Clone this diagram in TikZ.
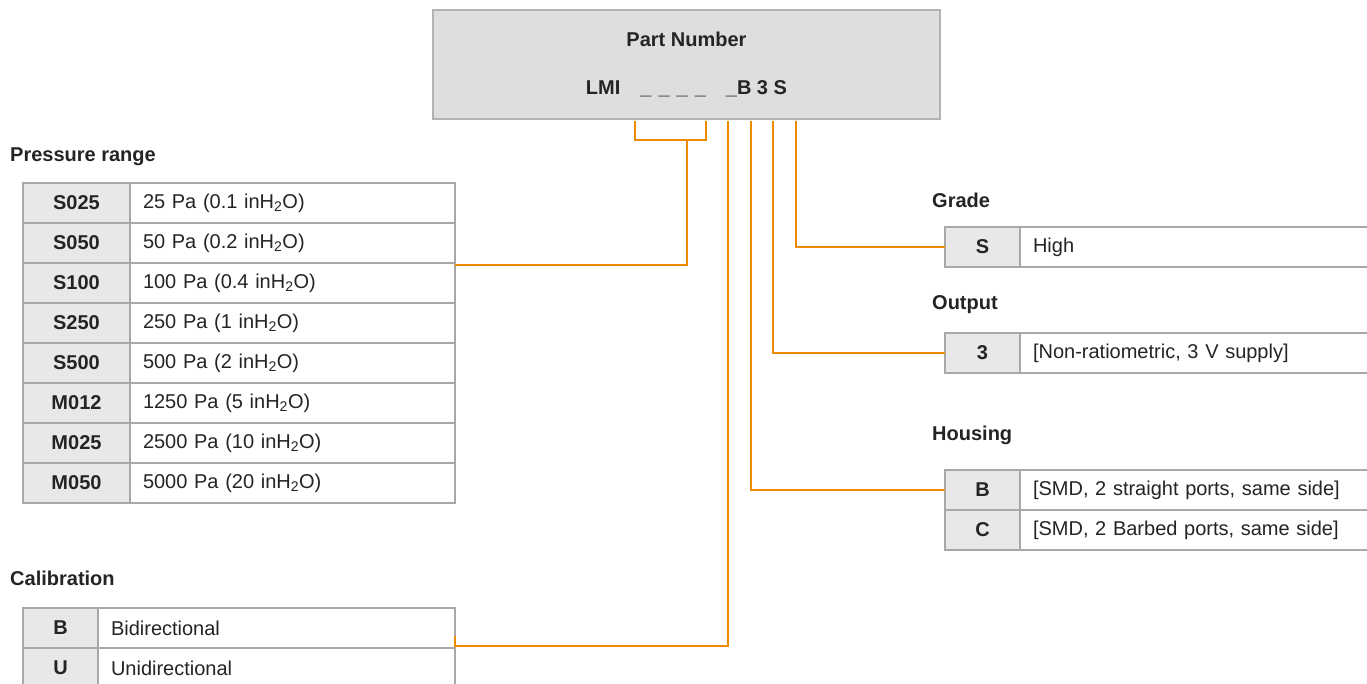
\documentclass[tikz,border=0pt]{standalone}
\usepackage{fontspec}
\setmainfont{Liberation Sans}
\usetikzlibrary{positioning}

\definecolor{wireorange}{RGB}{238,137,0}
\definecolor{cellgray}{RGB}{232,232,233}
\definecolor{rulegray}{RGB}{168,168,168}
\definecolor{boxgray}{RGB}{222,222,222}
\definecolor{boxrule}{RGB}{178,178,178}
\definecolor{inkgray}{RGB}{36,36,36}

\newcommand{\diagfont}{\fontsize{20}{24}\selectfont}

\tikzset{
	head/.style={font=\diagfont\bfseries, text=inkgray, anchor=west, inner sep=0pt},
	keycell/.style={draw=rulegray, line width=1.5pt, fill=cellgray,
		font=\diagfont\bfseries, text=inkgray, minimum width=#1,
		minimum height=40pt, inner sep=0pt, outer sep=0pt, anchor=north west},
	keycell/.default=75pt,
	valcell/.style={draw=rulegray, line width=1.5pt, fill=white, text=inkgray,
		text width=#1, align=left, minimum height=40pt, inner xsep=13pt,
		inner ysep=0pt, outer sep=0pt},
	valcell/.default=334pt,
	wire/.style={draw=wireorange, line width=2pt},
}

\begin{document}
\begin{tikzpicture}[x=1pt,y=-1pt,font=\diagfont]

		\clip (0,0) rectangle (1367,683);
		\fill[white] (0,0) rectangle (1367,683);

		% Part number
		\node[draw=boxrule,
			line width=1.5pt,
			fill=boxgray,
			font=\diagfont\bfseries,
			text=inkgray,
			align=center,
			minimum width=507pt,
			minimum height=109pt] (partno) at (686.5,64.5)
			{Part Number\\[24pt]LMI\hspace{20pt}\_\hspace{7pt}\_\hspace{7pt}\_\hspace{7pt}\_\hspace{20pt}\_B 3 S};

		% Pressure range
		\node[head] (rangehead) at (10,157) {Pressure range};
		\node[keycell=107pt] (pr1k) at (23,183) {S025};
		\node[valcell=299pt, right=0pt of pr1k] (pr1v) {25 Pa (0.1 inH\textsubscript{2}O)};
		\node[keycell=107pt, below=0pt of pr1k] (pr2k) {S050};
		\node[valcell=299pt, right=0pt of pr2k] (pr2v) {50 Pa (0.2 inH\textsubscript{2}O)};
		\node[keycell=107pt, below=0pt of pr2k] (pr3k) {S100};
		\node[valcell=299pt, right=0pt of pr3k] (pr3v) {100 Pa (0.4 inH\textsubscript{2}O)};
		\node[keycell=107pt, below=0pt of pr3k] (pr4k) {S250};
		\node[valcell=299pt, right=0pt of pr4k] (pr4v) {250 Pa (1 inH\textsubscript{2}O)};
		\node[keycell=107pt, below=0pt of pr4k] (pr5k) {S500};
		\node[valcell=299pt, right=0pt of pr5k] (pr5v) {500 Pa (2 inH\textsubscript{2}O)};
		\node[keycell=107pt, below=0pt of pr5k] (pr6k) {M012};
		\node[valcell=299pt, right=0pt of pr6k] (pr6v) {1250 Pa (5 inH\textsubscript{2}O)};
		\node[keycell=107pt, below=0pt of pr6k] (pr7k) {M025};
		\node[valcell=299pt, right=0pt of pr7k] (pr7v) {2500 Pa (10 inH\textsubscript{2}O)};
		\node[keycell=107pt, below=0pt of pr7k] (pr8k) {M050};
		\node[valcell=299pt, right=0pt of pr8k] (pr8v) {5000 Pa (20 inH\textsubscript{2}O)};

		% Calibration
		\node[head] (calhead) at (10,578) {Calibration};
		\node[keycell] (ca1k) at (23,608) {B};
		\node[valcell=331pt, right=0pt of ca1k] (ca1v) {Bidirectional};
		\node[keycell, below=0pt of ca1k] (ca2k) {U};
		\node[valcell=331pt, right=0pt of ca2k] (ca2v) {Unidirectional};

		% Grade
		\node[head] (gradehead) at (932,200) {Grade};
		\node[keycell] (gr1k) at (945,227) {S};
		\node[valcell, right=0pt of gr1k] (gr1v) {High};

		% Output
		\node[head] (outhead) at (932,305) {Output};
		\node[keycell] (ou1k) at (945,333) {3};
		\node[valcell, right=0pt of ou1k] (ou1v) {[Non-ratiometric, 3 V supply]};

		% Housing
		\node[head] (houhead) at (932,435) {Housing};
		\node[keycell] (ho1k) at (945,470) {B};
		\node[valcell, right=0pt of ho1k] (ho1v) {[SMD, 2 straight ports, same side]};
		\node[keycell, below=0pt of ho1k] (ho2k) {C};
		\node[valcell, right=0pt of ho2k] (ho2v) {[SMD, 2 Barbed ports, same side]};

		% Taps under the part number
		\coordinate (brkL) at (635,121);
		\coordinate (brkR) at (706,121);
		\coordinate (brkM) at (687,140);
		\coordinate (tapCal) at (728,121);
		\coordinate (tapHou) at (751,121);
		\coordinate (tapOut) at (773,121);
		\coordinate (tapGra) at (796,121);

		\draw[wire] (brkL) |- (brkM) -| (brkR);
		\draw[wire] (brkM) |- ([yshift=-2pt]pr3v.north east);
		\draw[wire] (tapCal) |- ([yshift=2pt]ca1v.south east) -- ++(0,-10);
		\draw[wire] (tapHou) |- (ho1k.west);
		\draw[wire] (tapOut) |- (ou1k.west);
		\draw[wire] (tapGra) |- (gr1k.west);
	\end{tikzpicture}
\end{document}
